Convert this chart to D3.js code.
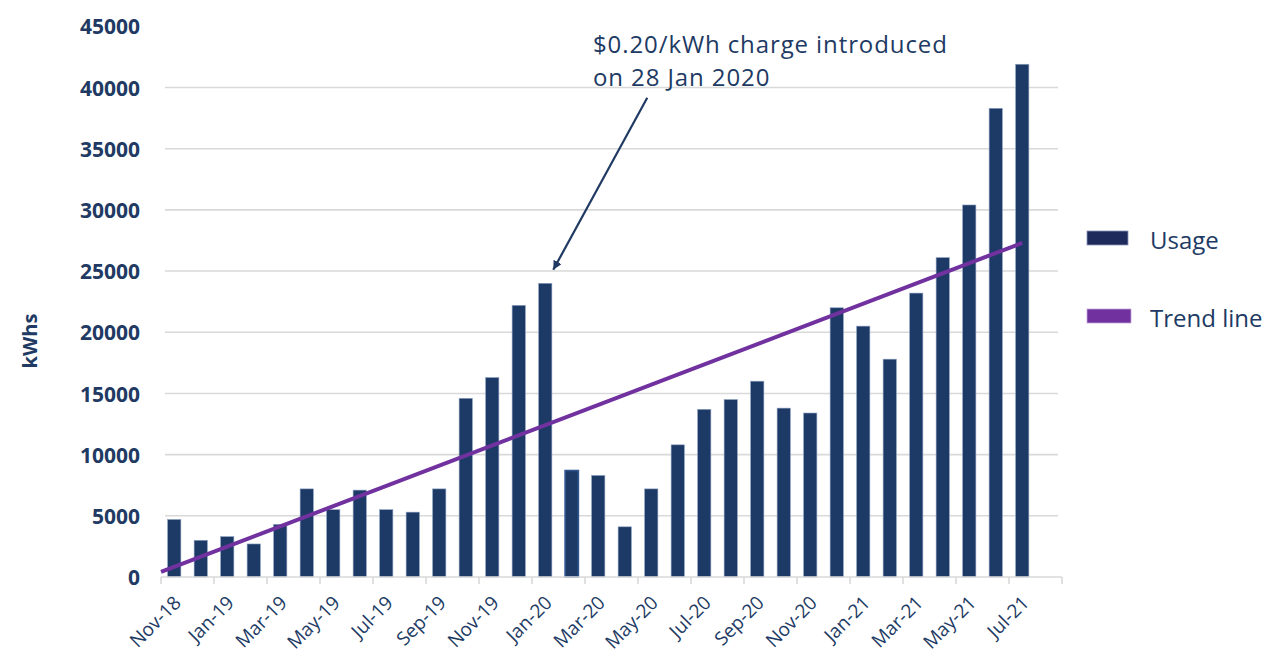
<!DOCTYPE html>
<html>
<head>
<meta charset="utf-8">
<script src="https://cdn.jsdelivr.net/npm/d3@7"></script>
<style>
  body { margin: 0; background: #fff; }
  svg { display: block; font-family: "Open Sans", "Noto Sans", sans-serif; }
</style>
</head>
<body>
<svg id="chart" width="1264" height="656"></svg>
<script>
// ***** Data ***** //
var months = ['Nov-18','Dec-18','Jan-19','Feb-19','Mar-19','Apr-19','May-19','Jun-19','Jul-19','Aug-19',
              'Sep-19','Oct-19','Nov-19','Dec-19','Jan-20','Feb-20','Mar-20','Apr-20','May-20','Jun-20',
              'Jul-20','Aug-20','Sep-20','Oct-20','Nov-20','Dec-20','Jan-21','Feb-21','Mar-21','Apr-21',
              'May-21','Jun-21','Jul-21','Aug-21'];
var usage = [4700, 3000, 3300, 2700, 4300, 7200, 5500, 7100, 5500, 5300,
             7200, 14600, 16300, 22200, 24000, 8700, 8300, 4100, 7200, 10800,
             13700, 14500, 16000, 13800, 13400, 22000, 20500, 17800, 23200, 26100,
             30400, 38300, 41900];
// trend line end points: month index (band units) and kWh
var trendIdx = [-0.5, 32];
var trendVal = [410, 27300];
var yTicks = [0, 5000, 10000, 15000, 20000, 25000, 30000, 35000, 40000, 45000];
var gridTicks = [0, 5000, 10000, 15000, 20000, 25000, 30000, 35000, 40000];
var xLabels = months.filter((d, i) => i % 2 == 0 && i < 33);
var noteLines = ['$0.20/kWh charge introduced', 'on 28 Jan 2020'];
var noteMonth = 'Jan-20', noteValue = 25100;
var legendItems = ['Usage', 'Trend line'];

var navy = '#1d3a66', purple = '#7132a0', textCol = '#213a63', gridCol = '#d9d9d9';
var font = '"Open Sans", "Noto Sans", sans-serif';

var svg = d3.select('#chart');

// ***** Scales ***** //
var x = d3.scaleBand()
    .domain(months)
    .range([161, 1062])
    .paddingInner(0.5)
    .paddingOuter(0.25);

var y = d3.scaleLinear()
    .domain([0, 40000])
    .range([577, 87.5]);

var step = x.step();
var xi = d3.scaleLinear()
    .domain([0, 1])
    .range([x(months[0]) + x.bandwidth() / 2, x(months[0]) + x.bandwidth() / 2 + step]);

// ***** Grid ***** //
svg.append('g')
    .selectAll('line')
    .data(gridTicks.slice(1))
    .enter()
    .append('line')
    .attr('x1', 165).attr('x2', 1058)
    .attr('y1', d => y(d)).attr('y2', d => y(d))
    .attr('stroke', gridCol)
    .attr('stroke-width', 1.6);

// ***** Y axis labels ***** //
var yAxis = svg.append('g')
    .attr('transform', 'translate(140,0)')
    .call(d3.axisLeft(y).tickValues(yTicks).tickSize(0).tickPadding(0).tickFormat(d3.format('d')));
yAxis.select('.domain').remove();
yAxis.attr('font-family', font).attr('font-size', 21);
yAxis.selectAll('text')
    .attr('fill', textCol)
    .attr('font-weight', 700)
    .attr('dy', '0.36em');

// ***** Bars ***** //
svg.append('g')
    .selectAll('rect')
    .data(usage)
    .enter()
    .append('rect')
    .attr('x', (d, i) => x(months[i]))
    .attr('width', x.bandwidth())
    .attr('y', d => y(d))
    .attr('height', d => y(0) - y(d))
    .attr('fill', navy)
    .attr('stroke', (d, i) => months[i] == 'Feb-20' ? '#2f5590' : '#8da2c2')
    .attr('stroke-width', (d, i) => months[i] == 'Feb-20' ? 1.6 : 0.6);

// ***** X axis ***** //
var xAxis = svg.append('g');
xAxis.append('line')
    .attr('x1', 161).attr('x2', 1062)
    .attr('y1', y(0)).attr('y2', y(0))
    .attr('stroke', gridCol)
    .attr('stroke-width', 1.6);
xAxis.selectAll('.tick')
    .data(d3.range(0, months.length + 1, 2))
    .enter()
    .append('line')
    .attr('x1', d => 161 + d * step).attr('x2', d => 161 + d * step)
    .attr('y1', y(0)).attr('y2', y(0) + 7)
    .attr('stroke', gridCol)
    .attr('stroke-width', 1.6);
xAxis.selectAll('text')
    .data(xLabels)
    .enter()
    .append('text')
    .attr('transform', d => 'translate(' + (x(d) + x.bandwidth() / 2 + 8) + ',' + (y(0) + 27) + ') rotate(-45)')
    .attr('text-anchor', 'end')
    .attr('fill', textCol)
    .attr('font-size', 19)
    .text(d => d);

// ***** Trend line ***** //
svg.append('line')
    .attr('x1', xi(trendIdx[0])).attr('y1', y(trendVal[0]))
    .attr('x2', xi(trendIdx[1])).attr('y2', y(trendVal[1]))
    .attr('stroke', purple)
    .attr('stroke-width', 4);

// ***** Y title ***** //
svg.append('text')
    .attr('transform', 'translate(37,341) rotate(-90)')
    .attr('text-anchor', 'middle')
    .attr('fill', textCol)
    .attr('font-size', 20)
    .attr('font-weight', 700)
    .text('kWhs');

// ***** Annotation ***** //
var tipX = x(noteMonth) + x.bandwidth() / 2 + 8, tipY = y(noteValue);
svg.append('defs').append('marker')
    .attr('id', 'arrow')
    .attr('viewBox', '0 0 10 10')
    .attr('refX', 10).attr('refY', 5)
    .attr('markerWidth', 9).attr('markerHeight', 9)
    .attr('markerUnits', 'userSpaceOnUse')
    .attr('orient', 'auto')
    .append('path')
    .attr('d', 'M0,0L10,5L0,10Z')
    .attr('fill', textCol);
svg.append('line')
    .attr('x1', tipX + 94).attr('y1', tipY - 172)
    .attr('x2', tipX).attr('y2', tipY)
    .attr('stroke', textCol)
    .attr('stroke-width', 2.2)
    .attr('marker-end', 'url(#arrow)');
svg.append('text')
    .attr('x', 593).attr('y', 53)
    .attr('fill', textCol)
    .attr('font-size', 24)
    .attr('letter-spacing', 0.9)
    .selectAll('tspan')
    .data(noteLines)
    .enter()
    .append('tspan')
    .attr('x', 593)
    .attr('dy', (d, i) => i == 0 ? 0 : 33)
    .text(d => d);

// ***** Legend ***** //
var legend = svg.append('g');
legend.selectAll('rect')
    .data(legendItems)
    .enter()
    .append('rect')
    .attr('x', 1087)
    .attr('y', (d, i) => 231 + i * 78)
    .attr('width', (d, i) => i == 0 ? 41 : 44)
    .attr('height', 14)
    .attr('fill', (d, i) => i == 0 ? '#1f2a5c' : purple)
    .attr('stroke', (d, i) => i == 0 ? '#8a93b8' : '#c3a6d8')
    .attr('stroke-width', 0.8);
legend.selectAll('text')
    .data(legendItems)
    .enter()
    .append('text')
    .attr('x', 1150)
    .attr('y', (d, i) => 249 + i * 78)
    .attr('fill', textCol)
    .attr('font-size', 24)
    .text(d => d);
</script>
</body>
</html>
